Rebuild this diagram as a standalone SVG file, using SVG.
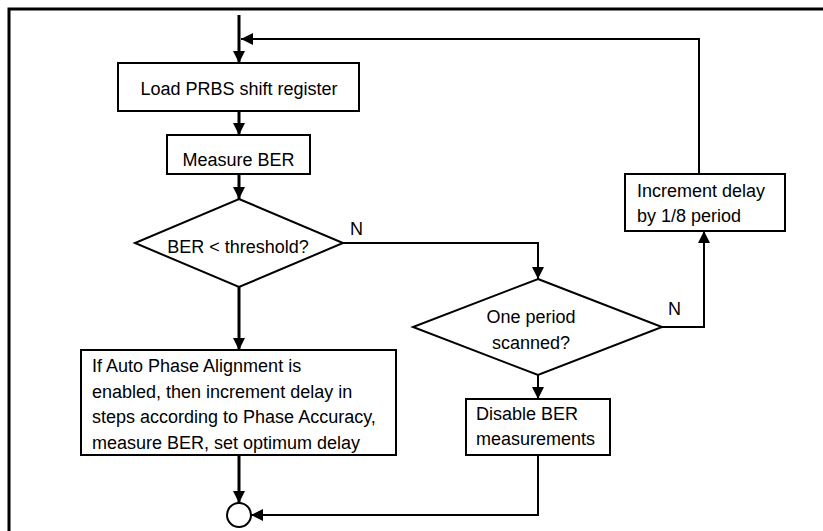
<svg xmlns="http://www.w3.org/2000/svg" width="823" height="531" viewBox="0 0 823 531">
<style>
.box{fill:#fff;stroke:#000;stroke-width:2}
.t{font-family:"Liberation Sans",Arial,sans-serif;font-size:18px;fill:#000}
.c{text-anchor:middle}
.thick{fill:none;stroke:#000;stroke-width:3}
.thin{fill:none;stroke:#000;stroke-width:2}
</style>
<defs>
<marker id="ah" markerUnits="userSpaceOnUse" markerWidth="12" markerHeight="12" refX="12" refY="6" orient="auto">
<path d="M0,0 L12,6 L0,12 z" fill="#000"/>
</marker>
</defs>
<rect width="823" height="531" fill="#fff"/>
<g id="frame">
<path d="M9,531 V9 H823" fill="none" stroke="#000" stroke-width="3"/>
</g>
<g id="connectors">
<path class="thick" d="M239,15 V63" marker-end="url(#ah)"/>
<path class="thin" d="M699,174 V39 H241" marker-end="url(#ah)"/>
<path class="thick" d="M239,111 V135" marker-end="url(#ah)"/>
<path class="thick" d="M239,174 V199" marker-end="url(#ah)"/>
<path class="thick" d="M239,287 V350" marker-end="url(#ah)"/>
<path class="thick" d="M239,455 V503" marker-end="url(#ah)"/>
<path class="thin" d="M343,243 H538 V279" marker-end="url(#ah)"/>
<path class="thin" d="M662,327 H704 V231" marker-end="url(#ah)"/>
<path class="thin" d="M538,375 V399" marker-end="url(#ah)"/>
<path class="thin" d="M538,455 V515 H251" marker-end="url(#ah)"/>
<text class="t" x="350" y="235">N</text>
<text class="t" x="668" y="315">N</text>
</g>
<g id="load">
<rect class="box" x="118" y="63" width="241" height="48"/>
<text class="t c" x="239" y="95">Load PRBS shift register</text>
</g>
<g id="measure">
<rect class="box" x="167" y="135" width="143" height="39"/>
<text class="t c" x="238.5" y="166">Measure BER</text>
</g>
<g id="threshold">
<path class="box" d="M239,199 L343,243 L239,287 L135,243 z"/>
<text class="t c" x="238" y="253">BER &lt; threshold?</text>
</g>
<g id="auto">
<rect class="box" x="81" y="350" width="315" height="105"/>
<text class="t" x="92" y="372">If Auto Phase Alignment is</text>
<text class="t" x="92" y="398">enabled, then increment delay in</text>
<text class="t" x="92" y="423">steps according to Phase Accuracy,</text>
<text class="t" x="92" y="449">measure BER, set optimum delay</text>
</g>
<g id="scanned">
<path class="box" d="M538,279 L662,327 L538,375 L413,327 z"/>
<text class="t c" x="531" y="323">One period</text>
<text class="t c" x="531" y="349">scanned?</text>
</g>
<g id="increment">
<rect class="box" x="625" y="174" width="160" height="57"/>
<text class="t" x="637" y="197">Increment delay</text>
<text class="t" x="637" y="222">by 1/8 period</text>
</g>
<g id="disable">
<rect class="box" x="466" y="399" width="144" height="56"/>
<text class="t" x="476" y="420">Disable BER</text>
<text class="t" x="476" y="445">measurements</text>
</g>
<g id="end">
<circle cx="239" cy="515" r="12" fill="#fff" stroke="#000" stroke-width="2"/>
</g>
</svg>
